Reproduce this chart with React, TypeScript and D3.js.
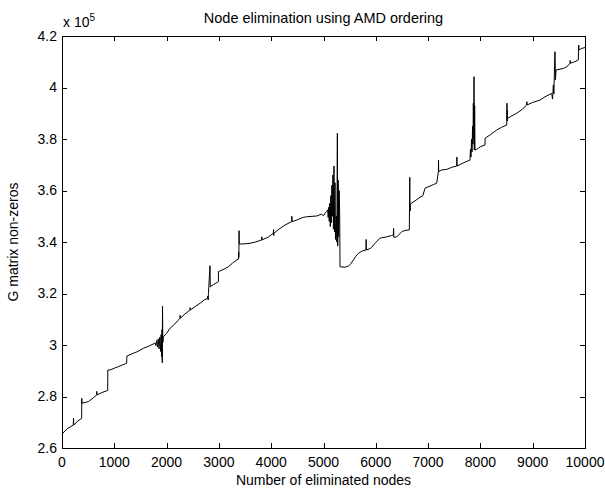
import React, { useEffect, useRef } from 'react';
import { select, scaleLinear, line, range } from 'd3';

// eliminated node count (x) and G matrix non-zeros (y)
const nodes = [
  0, 100, 216, 220, 225, 300, 376, 378, 382, 503, 600, 663, 665, 668, 760, 854, 874, 876, 918, 1000,
  1077, 1150, 1237, 1240, 1364, 1450, 1555, 1650, 1746,
  1780, 1795, 1810, 1825, 1840, 1855, 1870, 1885, 1895, 1905, 1912, 1918, 1922, 1928, 1937,
  2000, 2065, 2150, 2256, 2258, 2262, 2350, 2447, 2450, 2455, 2550, 2639, 2720, 2779, 2790, 2795,
  2800, 2830, 2835, 2900, 2990, 2992, 3100, 3181, 3260, 3341, 3372, 3378, 3382, 3385, 3390,
  3500, 3595, 3700, 3819, 3821, 3825, 3950, 4041, 4045, 4048, 4052, 4150, 4264, 4392, 4395, 4400,
  4487, 4600, 4679, 4870, 4960, 5000, 5040, 5061,
  5080, 5090, 5100, 5110, 5120, 5130, 5140, 5150, 5160, 5170, 5180, 5190, 5200, 5210, 5220, 5230,
  5245, 5255, 5265, 5272, 5280, 5290, 5300, 5310, 5316,
  5400, 5476, 5520, 5571, 5620, 5667, 5740, 5813, 5815, 5820, 5900, 5985, 6080, 6208, 6300, 6336,
  6340, 6345, 6400, 6496, 6560, 6641, 6645, 6650, 6652, 6656, 6660, 6750, 6845, 6900, 6941, 7037,
  7100, 7164, 7197, 7199, 7203, 7260, 7356, 7450, 7547, 7550, 7555, 7650, 7750, 7801,
  7810, 7820, 7830, 7840, 7850, 7858, 7865, 7872, 7878, 7884, 7890, 7897, 7929,
  8000, 8088, 8090, 8200, 8312, 8400, 8503, 8508, 8512, 8516, 8520, 8600, 8694, 8800, 8885, 8888,
  8892, 9000, 9140, 9235, 9363, 9380, 9395, 9405, 9415, 9426, 9435, 9446, 9585, 9650, 9713, 9716,
  9720, 9800, 9873, 9875, 9880, 9885, 9937, 10000,
];
const nonZeros = [
  265400, 267500, 268900, 271500, 268900, 270500, 271500, 279300, 277400, 278000, 279500, 280600, 282000, 280600, 281500, 282200, 282300, 290300, 290300, 291000,
  291600, 292200, 292900, 295700, 296800, 297500, 298700, 299500, 300400,
  300800, 299800, 301800, 299200, 302400, 298500, 303000, 297500, 304000, 295500, 306000, 293100, 315100, 301000, 303200,
  304500, 306500, 308000, 310400, 311500, 310400, 312000, 313600, 314500, 313600, 315000, 316200, 317500, 318100, 319000, 317500,
  320000, 330800, 322600, 323500, 324600, 328500, 329500, 330400, 331800, 333000, 333300, 336000, 334000, 344400, 339200,
  339300, 339500, 340000, 340800, 342000, 340800, 342000, 343400, 344800, 342500, 343400, 345000, 346600, 347900, 350000, 347900,
  348500, 349500, 349800, 350100, 350800, 350200, 351500, 351800,
  352500, 349500, 353500, 348000, 355000, 346000, 358000, 347500, 362000, 350000, 366000, 345000, 369500, 344000, 363000, 341000,
  350000, 340000, 382200, 338400, 364000, 342000, 360000, 350000, 330400,
  330200, 330600, 331500, 333000, 334500, 335600, 336500, 336900, 341000, 336900, 337500, 339500, 341500, 342000, 342500, 342700,
  345300, 341800, 342000, 344000, 344500, 344700, 354500, 365100, 356000, 352000, 354800, 356000, 357400, 358000, 360900, 361700,
  362300, 362800, 367300, 371800, 367300, 368000, 368200, 369000, 369500, 373000, 369500, 370500, 371400, 371800,
  376000, 373000, 380000, 375000, 385000, 378000, 393900, 380000, 404200, 375700, 393000, 375700, 376000,
  377000, 377700, 380300, 381800, 383500, 384500, 385400, 393900, 387000, 391000, 388000, 389000, 390000, 391500, 393200, 394500,
  393200, 394200, 395100, 396400, 397700, 395500, 401000, 397500, 406000, 413900, 403000, 406800, 407400, 408000, 409400, 410500,
  409400, 410000, 410700, 414600, 416500, 414600, 415200, 415500,
];

const xTicks = [0, 1000, 2000, 3000, 4000, 5000, 6000, 7000, 8000, 9000, 10000];
const yTicks = [260000, 280000, 300000, 320000, 340000, 360000, 380000, 400000, 420000];

const title = 'Node elimination using AMD ordering';
const xLabel = 'Number of eliminated nodes';
const yLabel = 'G matrix non-zeros';

const App = () => {
  const svgRef = useRef<SVGSVGElement>(null);
  const width = 605;
  const height = 491;
  const margin = { top: 36, right: 20, bottom: 43, left: 62 };

  useEffect(() => {
    const svg = select(svgRef.current);
    svg.selectAll('*').remove();

    const innerWidth = width - margin.left - margin.right;
    const innerHeight = height - margin.top - margin.bottom;
    const font = 'Liberation Sans, Arial, Helvetica, sans-serif';

    const x = scaleLinear().domain([0, 10000]).range([0, innerWidth]);
    const y = scaleLinear().domain([260000, 420000]).range([innerHeight, 0]);

    const g = svg.append('g').attr('transform', `translate(${margin.left},${margin.top})`);

    // data line
    const pts = range(nodes.length).map(i => [nodes[i], nonZeros[i]] as [number, number]);
    g.append('path')
      .datum(pts)
      .attr('fill', 'none')
      .attr('stroke', '#000')
      .attr('stroke-width', 1)
      .attr('d', line<[number, number]>().x(d => x(d[0])).y(d => y(d[1])));

    // box
    g.append('rect')
      .attr('x', 0.5).attr('y', 0.5)
      .attr('width', innerWidth).attr('height', innerHeight)
      .attr('fill', 'none').attr('stroke', '#000').attr('stroke-width', 1);

    const tl = 5;
    // ticks inward on all sides
    xTicks.forEach(t => {
      const px = Math.round(x(t)) + 0.5;
      g.append('line').attr('x1', px).attr('x2', px).attr('y1', innerHeight).attr('y2', innerHeight - tl).attr('stroke', '#000');
      g.append('line').attr('x1', px).attr('x2', px).attr('y1', 0).attr('y2', tl).attr('stroke', '#000');
      g.append('text')
        .attr('x', x(t)).attr('y', innerHeight + 19)
        .attr('text-anchor', 'middle')
        .attr('font-family', font).attr('font-size', 14)
        .text(t);
    });
    yTicks.forEach(t => {
      const py = Math.round(y(t)) + 0.5;
      g.append('line').attr('x1', 0).attr('x2', tl).attr('y1', py).attr('y2', py).attr('stroke', '#000');
      g.append('line').attr('x1', innerWidth).attr('x2', innerWidth - tl).attr('y1', py).attr('y2', py).attr('stroke', '#000');
      g.append('text')
        .attr('x', -5).attr('y', y(t)).attr('dy', '0.35em')
        .attr('text-anchor', 'end')
        .attr('font-family', font).attr('font-size', 14)
        .text(String(t / 100000));
    });

    // exponent label
    const ex = g.append('text').attr('x', 1).attr('y', -9).attr('font-family', font).attr('font-size', 14);
    ex.append('tspan').text('x 10');
    ex.append('tspan').attr('font-size', 10).attr('dy', -6).text('5');

    g.append('text')
      .attr('x', innerWidth / 2).attr('y', -13)
      .attr('text-anchor', 'middle')
      .attr('font-family', font).attr('font-size', 14.5)
      .text(title);

    g.append('text')
      .attr('x', innerWidth / 2).attr('y', innerHeight + 37)
      .attr('text-anchor', 'middle')
      .attr('font-family', font).attr('font-size', 14)
      .text(xLabel);

    g.append('text')
      .attr('transform', `translate(${-44},${innerHeight / 2}) rotate(-90)`)
      .attr('text-anchor', 'middle')
      .attr('font-family', font).attr('font-size', 14)
      .text(yLabel);
  }, []);

  return (
    <svg
      ref={svgRef}
      width={width}
      height={height}
      style={{ position: 'absolute', left: 0, top: 0, background: '#fff' }}
    />
  );
};

export default App;
